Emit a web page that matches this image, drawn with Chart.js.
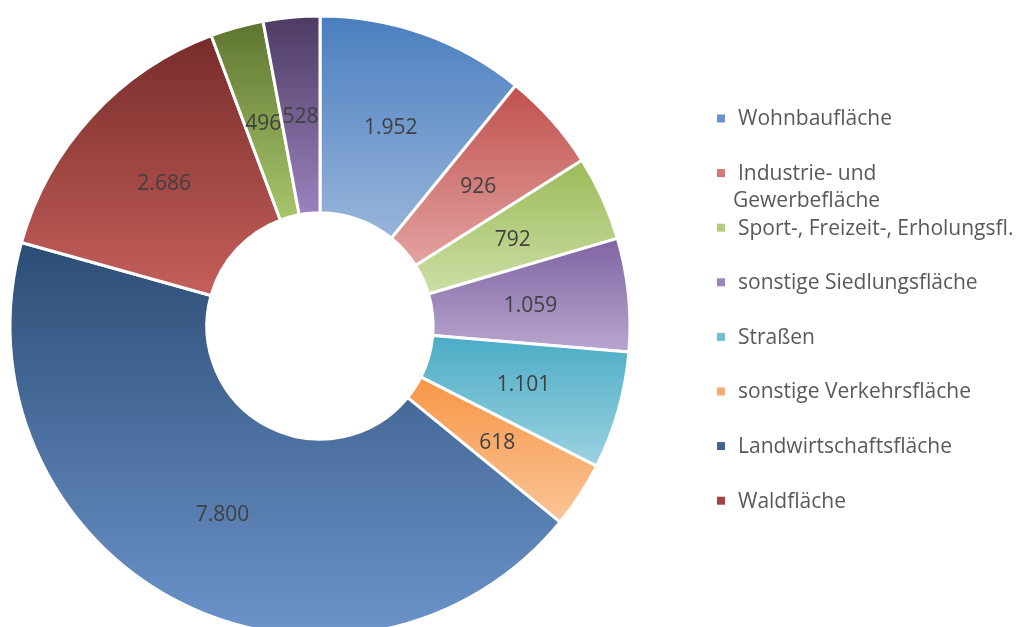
<!DOCTYPE html>
<html>
<head>
<meta charset="utf-8">
<script src="https://cdn.jsdelivr.net/npm/chart.js@4/dist/chart.umd.min.js"></script>
<style>
html,body{margin:0;padding:0;background:#fff;overflow:hidden;width:1019px;height:627px;}
#wrap{position:relative;width:1019px;height:660px;}
</style>
</head>
<body>
<div id="wrap"><canvas id="c"></canvas></div>
<script>
// ---- data ----
const categories = [
  "Wohnbaufläche",
  "Industrie- und Gewerbefläche",
  "Sport-, Freizeit-, Erholungsfl.",
  "sonstige Siedlungsfläche",
  "Straßen",
  "sonstige Verkehrsfläche",
  "Landwirtschaftsfläche",
  "Waldfläche",
  "",
  ""
];
const values = [1952, 926, 792, 1059, 1101, 618, 7800, 2686, 496, 528];
const legendLines = [
  ["Wohnbaufläche"],
  ["Industrie- und", "Gewerbefläche"],
  ["Sport-, Freizeit-, Erholungsfl."],
  ["sonstige Siedlungsfläche"],
  ["Straßen"],
  ["sonstige Verkehrsfläche"],
  ["Landwirtschaftsfläche"],
  ["Waldfläche"]
];
const topColors    = ["#4A7EBF","#C0504D","#9BBB59","#8064A2","#4BACC6","#F79646","#2C4D75","#772C2A","#5F7530","#4D3B62"];
const bottomColors = ["#98B5DB","#E3A3A1","#CDDEA6","#B8A6CF","#9CD2E1","#FAC597","#6C94CB","#C55F5B","#A8C66C","#9B82BF"];
const legendColors = ["#6A93CC","#D47775","#B2CD80","#9D85BB","#70BFD4","#F8AD6E","#3F628F","#A44441"];

function fmt(v){ return String(v).replace(/\B(?=(\d{3})+(?!\d))/g, "."); }

const BW = 3;
const CUT = 0.365;

function sliceGradient(ctx){
  const chart = ctx.chart;
  const ca = chart.chartArea;
  const i = ctx.dataIndex;
  if (!ca || i === undefined) return topColors[i] || "#888";
  const cx = (ca.left + ca.right) / 2, cy = (ca.top + ca.bottom) / 2;
  const R = (Math.min(ca.right - ca.left, ca.bottom - ca.top) - BW) / 2;
  const r = R * CUT;
  const total = values.reduce((a,b)=>a+b,0);
  let before = 0;
  for (let k=0;k<i;k++) before += values[k];
  const a0 = -Math.PI/2 + before/total*2*Math.PI;
  const a1 = a0 + values[i]/total*2*Math.PI;
  const ys = [cy + R*Math.sin(a0), cy + R*Math.sin(a1), cy + r*Math.sin(a0), cy + r*Math.sin(a1)];
  const inRange = a => { for (let t=-4;t<=4;t++){ const x=a+t*2*Math.PI; if (x>=a0 && x<=a1) return true;} return false; };
  if (inRange(Math.PI/2)) ys.push(cy + R);
  if (inRange(-Math.PI/2)) ys.push(cy - R);
  const y0 = Math.min(...ys), y1 = Math.max(...ys);
  const g = chart.ctx.createLinearGradient(0, y0, 0, y1);
  g.addColorStop(0, topColors[i]);
  g.addColorStop(1, bottomColors[i]);
  return g;
}

const valueLabels = {
  id: 'valueLabels',
  afterDatasetsDraw(chart){
    const ctx = chart.ctx;
    const meta = chart.getDatasetMeta(0);
    ctx.save();
    ctx.font = '21px "Open Sans"';
    ctx.fillStyle = '#404040';
    ctx.textAlign = 'center';
    ctx.textBaseline = 'middle';
    meta.data.forEach((arc, i) => {
      const p = arc.tooltipPosition();
      ctx.fillText(fmt(values[i]), p.x, p.y + 1.5);
    });
    ctx.restore();
  }
};

const customLegend = {
  id: 'customLegend',
  afterDraw(chart){
    const ctx = chart.ctx;
    ctx.save();
    ctx.font = '21px "Open Sans"';
    ctx.textBaseline = 'middle';
    const x0 = 717, y0 = 119.5, step = 54.6, box = 8;
    legendLines.forEach((lines, i) => {
      const y = y0 + i*step;
      ctx.fillStyle = legendColors[i];
      ctx.fillRect(x0, y - box/2 - 1, box, box);
      ctx.fillStyle = '#595959';
      lines.forEach((t, j) => {
        ctx.fillText(t, j === 0 ? 738 : 733, y + j*27);
      });
    });
    ctx.restore();
  }
};

new Chart(document.getElementById('c'), {
  type: 'doughnut',
  data: {
    labels: categories,
    datasets: [{
      data: values,
      backgroundColor: sliceGradient,
      borderColor: '#ffffff',
      borderWidth: BW,
      hoverOffset: 0
    }]
  },
  options: {
    responsive: true,
    maintainAspectRatio: false,
    animation: false,
    cutout: (CUT*100) + '%',
    layout: { padding: { left: 8.5, top: 14.5, right: 387.5, bottom: 22.5 } },
    plugins: {
      legend: { display: false },
      tooltip: { enabled: false }
    }
  },
  plugins: [valueLabels, customLegend]
});
</script>
</body>
</html>
